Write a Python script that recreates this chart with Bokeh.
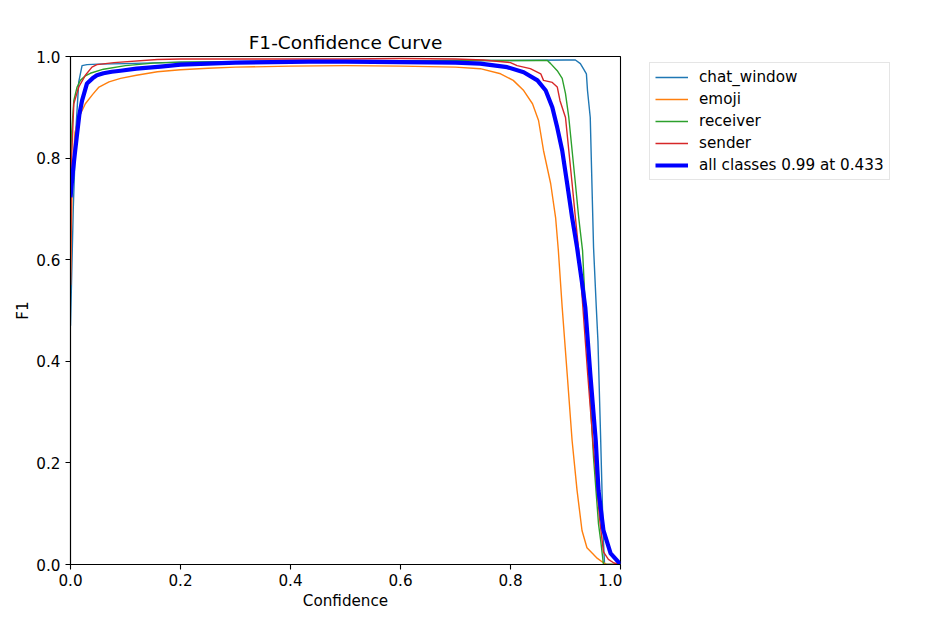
from bokeh.plotting import figure
from bokeh.layouts import row
from bokeh.models import Range1d, FixedTicker, PrintfTickFormatter, Legend, LegendItem, Title
from bokeh.embed import file_html
from bokeh.resources import INLINE

# ---- data ----
chat_x = [0.0, 0.005, 0.01, 0.015, 0.021, 0.03, 0.05, 0.1, 0.2, 0.3, 0.4, 0.5, 0.6, 0.7, 0.8, 0.9,
          0.918, 0.927, 0.933, 0.938, 0.94, 0.945, 0.951, 0.956, 0.959, 0.964, 0.967, 0.969, 0.971, 1.0]
chat_y = [0.47, 0.70, 0.86, 0.95, 0.982, 0.984, 0.985, 0.986, 0.989, 0.99, 0.991, 0.991, 0.991, 0.992,
          0.992, 0.993, 0.993, 0.986, 0.975, 0.966, 0.933, 0.88, 0.624, 0.506, 0.44, 0.244, 0.12, 0.047, 0.0, 0.0]

emoji_x = [0.0, 0.003, 0.008, 0.015, 0.027, 0.04, 0.051, 0.07, 0.091, 0.12, 0.158, 0.2, 0.25, 0.3, 0.4,
           0.5, 0.6, 0.7, 0.745, 0.782, 0.805, 0.824, 0.84, 0.851, 0.86, 0.873, 0.882, 0.887, 0.894,
           0.903, 0.912, 0.921, 0.93, 0.939, 0.958, 0.967, 0.975, 1.0]
emoji_y = [0.55, 0.75, 0.85, 0.88, 0.907, 0.925, 0.939, 0.95, 0.957, 0.963, 0.97, 0.974, 0.977, 0.979,
           0.981, 0.982, 0.981, 0.979, 0.976, 0.966, 0.953, 0.933, 0.907, 0.874, 0.815, 0.75, 0.683,
           0.618, 0.506, 0.376, 0.244, 0.146, 0.067, 0.033, 0.012, 0.005, 0.0, 0.0]

recv_x = [0.0, 0.002, 0.006, 0.012, 0.018, 0.027, 0.036, 0.06, 0.1, 0.15, 0.2, 0.3, 0.4, 0.5, 0.6,
          0.7, 0.8, 0.867, 0.873, 0.885, 0.894, 0.9, 0.906, 0.912, 0.918, 0.924, 0.931, 0.939, 0.951,
          0.96, 0.964, 0.969, 1.0]
recv_y = [0.75, 0.85, 0.913, 0.94, 0.953, 0.962, 0.967, 0.975, 0.982, 0.987, 0.989, 0.99, 0.991, 0.991,
          0.991, 0.992, 0.992, 0.992, 0.986, 0.972, 0.957, 0.927, 0.88, 0.815, 0.75, 0.683, 0.618,
          0.44, 0.21, 0.08, 0.047, 0.0, 0.0]

send_x = [0.0, 0.002, 0.006, 0.015, 0.027, 0.039, 0.048, 0.079, 0.158, 0.2, 0.3, 0.4, 0.5, 0.6, 0.7,
          0.75, 0.8, 0.812, 0.836, 0.855, 0.86, 0.876, 0.885, 0.89, 0.9, 0.906, 0.912, 0.918, 0.924,
          0.93, 0.94, 0.95, 0.955, 0.962, 0.969, 0.978, 0.988, 1.0]
send_y = [0.55, 0.8, 0.907, 0.94, 0.963, 0.979, 0.984, 0.988, 0.994, 0.995, 0.995, 0.995, 0.995, 0.996,
          0.995, 0.993, 0.988, 0.982, 0.976, 0.966, 0.953, 0.949, 0.94, 0.913, 0.88, 0.815, 0.75,
          0.683, 0.618, 0.53, 0.38, 0.24, 0.18, 0.09, 0.025, 0.01, 0.003, 0.0]

all_x = [0.0, 0.004, 0.008, 0.012, 0.016, 0.021, 0.03, 0.04, 0.048, 0.06, 0.075, 0.091, 0.12, 0.164,
         0.2, 0.3, 0.433, 0.5, 0.6, 0.7, 0.745, 0.794, 0.824, 0.849, 0.864, 0.876, 0.885, 0.894, 0.903,
         0.912, 0.921, 0.93, 0.936, 0.945, 0.955, 0.96, 0.969, 0.982, 0.996, 1.0]
all_y = [0.723, 0.77, 0.81, 0.848, 0.885, 0.913, 0.947, 0.957, 0.963, 0.967, 0.97, 0.972, 0.976, 0.98,
         0.984, 0.988, 0.99, 0.99, 0.989, 0.988, 0.986, 0.979, 0.969, 0.953, 0.933, 0.9, 0.86, 0.815,
         0.75, 0.683, 0.624, 0.555, 0.506, 0.376, 0.244, 0.146, 0.067, 0.022, 0.005, 0.0]

labels = ["chat_window", "emoji", "receiver", "sender", "all classes 0.99 at 0.433"]
colors = ["#1f77b4", "#ff7f0e", "#2ca02c", "#d62728", "#0000ff"]
ticks = [0.0, 0.2, 0.4, 0.6, 0.8, 1.0]

FONT = "DejaVu Sans"
FS = "15.2px"

p = figure(width=622, height=637, output_backend="svg", toolbar_location=None,
           x_range=Range1d(0, 1), y_range=Range1d(0, 1),
           min_border_left=70, min_border_right=2, min_border_top=56, min_border_bottom=73)
p.background_fill_color = "white"
p.border_fill_color = "white"
p.outline_line_color = "black"
p.outline_line_width = 1.1
p.xgrid.visible = False
p.ygrid.visible = False

p.title = Title(text="F1-Confidence Curve", align="center", text_font=FONT,
                text_font_size="18.5px", text_font_style="normal", text_color="black",
                standoff=7)

for ax in (p.xaxis[0], p.yaxis[0]):
    ax.ticker = FixedTicker(ticks=ticks)
    ax.formatter = PrintfTickFormatter(format="%.1f")
    ax.minor_tick_line_color = None
    ax.major_tick_out = 5
    ax.major_tick_in = 0
    ax.major_tick_line_width = 1.1
    ax.major_tick_line_color = "black"
    ax.axis_line_color = "black"
    ax.axis_line_width = 1.1
    ax.major_label_text_font = FONT
    ax.major_label_text_font_size = FS
    ax.major_label_text_color = "black"
    ax.axis_label_text_font = FONT
    ax.axis_label_text_font_size = FS
    ax.axis_label_text_font_style = "normal"
    ax.axis_label_text_color = "black"

p.xaxis[0].axis_label = "Confidence"
p.yaxis[0].axis_label = "F1"
p.xaxis[0].major_label_standoff = 4
p.xaxis[0].axis_label_standoff = 3
p.yaxis[0].major_label_standoff = 5
p.yaxis[0].axis_label_standoff = 1

series = [(chat_x, chat_y), (emoji_x, emoji_y), (recv_x, recv_y), (send_x, send_y), (all_x, all_y)]
widths = [1.4, 1.4, 1.4, 1.4, 4.2]
for (xs, ys), col, w in zip(series, colors, widths):
    p.line(xs, ys, line_color=col, line_width=w, line_join="round")

# ---- legend panel (separate figure to the right of the plot) ----
lg = figure(width=320, height=637, output_backend="svg", toolbar_location=None,
            x_range=Range1d(0, 1), y_range=Range1d(0, 1),
            x_axis_location=None, y_axis_location=None,
            min_border_left=0, min_border_right=0, min_border_top=0, min_border_bottom=0)
lg.outline_line_color = None
lg.xgrid.visible = False
lg.ygrid.visible = False
lg.background_fill_color = "white"
lg.border_fill_color = "white"

nan = float("nan")
items = []
for lab, col, w in zip(labels, colors, widths):
    r = lg.line(x=[nan], y=[nan], line_color=col, line_width=w)
    items.append(LegendItem(label=lab, renderers=[r]))

legend = Legend(items=items, location=(27, 384), orientation="vertical",
                label_text_font=FONT, label_text_font_size=FS, label_text_color="black",
                glyph_width=33, glyph_height=18, label_height=18, label_standoff=11,
                spacing=4, padding=5, margin=0,
                border_line_color="#cccccc", border_line_width=1,
                background_fill_color="white", background_fill_alpha=1.0)
lg.add_layout(legend, "center")

layout = row(p, lg, spacing=0)
open("out.html", "w").write(file_html(layout, INLINE))
